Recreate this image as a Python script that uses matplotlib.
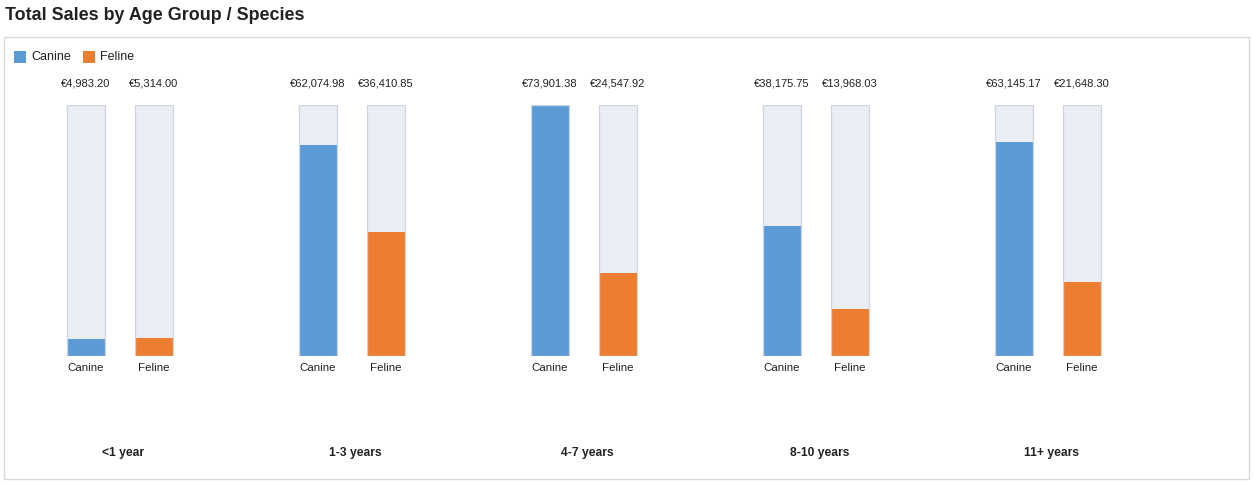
import matplotlib
matplotlib.use("Agg")
import matplotlib.pyplot as plt
from matplotlib.patches import Rectangle
import matplotlib.transforms as mtransforms

plt.rcParams['font.family'] = ['Liberation Sans', 'DejaVu Sans']

groups = ["<1 year", "1-3 years", "4-7 years", "8-10 years", "11+ years"]
species = ["Canine", "Feline"]
canine = [4983.20, 62074.98, 73901.38, 38175.75, 63145.17]
feline = [5314.00, 36410.85, 24547.92, 13968.03, 21648.30]
colors = {"Canine": "#5b9bd5", "Feline": "#ed7d31"}

W, H = 1254, 486
fig = plt.figure(figsize=(W / 100, H / 100), dpi=100)

def fy(py):
    return 1 - py / H

# axes: y=0 at pixel 356, y=max at pixel 105
ax = fig.add_axes([0, fy(356), 1, (356 - 105) / H])
ax.set_axis_off()
vmax = max(max(canine), max(feline))
ax.set_ylim(0, vmax)
ax.set_xlim(-119.5 / 232, (W - 119.5) / 232)

off = 34 / 232
bw = 38 / 232
bg = "#e9edf4"
edge = "#cfd5e0"

blend = mtransforms.blended_transform_factory(ax.transData, fig.transFigure)

for i, g in enumerate(groups):
    for sp, vals, sgn in (("Canine", canine, -1), ("Feline", feline, 1)):
        x = i + sgn * off
        ax.bar(x, vmax, width=bw, color=bg, zorder=1, linewidth=0)
        ax.bar(x, vals[i], width=bw, color=colors[sp], zorder=2, linewidth=0)
        ax.bar(x, vmax, width=bw, facecolor="none", edgecolor=edge, linewidth=0.9, zorder=3)
        ax.text(x, fy(83), "€{:,.2f}".format(vals[i]), transform=blend,
                ha="center", va="center", fontsize=8.0, color="#222222")
        ax.text(x, fy(368), sp, transform=blend, ha="center", va="center",
                fontsize=8.25, color="#222222")
    ax.text(i + 4 / 232, fy(453), g, transform=blend, ha="center", va="center",
            fontsize=8.7, fontweight="bold", color="#222222")

# title
fig.text(5 / W, fy(15), "Total Sales by Age Group / Species", ha="left", va="center",
         fontsize=12.9, fontweight="bold", color="#222222")

# panel border
fig.add_artist(Rectangle((4 / W, fy(479)), (1249 - 4) / W, (479 - 37) / H,
                         transform=fig.transFigure, facecolor="none",
                         edgecolor="#d9d9d9", linewidth=1))

# legend
lx = [14, 83]
for sp, x0 in zip(species, lx):
    fig.add_artist(Rectangle((x0 / W, fy(63)), 12 / W, 12 / H, transform=fig.transFigure,
                             facecolor=colors[sp], edgecolor="none"))
    fig.text((x0 + 17) / W, fy(57), sp, ha="left", va="center", fontsize=9, color="#222222")

fig.savefig("out.png", dpi=100)
